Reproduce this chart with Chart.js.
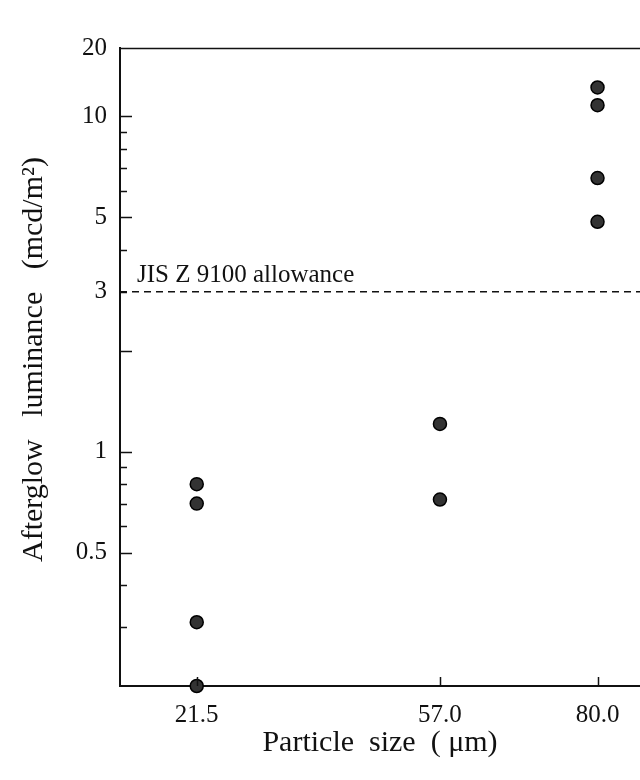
<!DOCTYPE html>
<html>
<head>
<meta charset="utf-8">
<title>Afterglow luminance vs particle size</title>
<script src="https://cdn.jsdelivr.net/npm/chart.js@4/dist/chart.umd.min.js"></script>
<style>
  body { margin: 0; background: #fff; }
  #wrap { width: 640px; height: 780px; }
</style>
</head>
<body>
<div id="wrap"><canvas id="chart" width="640" height="780"></canvas></div>
<script>
// particle sizes (µm) and measured afterglow luminance (mcd/m2)
const particleSizes = [21.5, 57.0, 80.0];
const lum21_5 = [0.80, 0.70, 0.31, 0.20];
const lum57_0 = [1.21, 0.72];
const lum80_0 = [12.2, 10.8, 6.55, 4.85];

// JIS Z 9100 allowance level
const allowance = 3;
const allowanceText = 'JIS Z 9100 allowance';

// axis ranges and labels
const xMin = 10.3, xMax = 86.2;
const yMin = 0.2, yMax = 16;
const yTickValues = [0.5, 1, 3, 5, 10, 16];
const yTickLabels = ['0.5', '1', '3', '5', '10', '20'];
const yMajorMarks = [0.5, 1, 2, 5, 10];
const yMinorMarks = [0.3, 0.4, 0.6, 0.7, 0.8, 0.9, 3, 4, 6, 7, 8, 9];
const xTickLabels = ['21.5', '57.0', '80.0'];

const serif = '"Liberation Serif", "DejaVu Serif", "Times New Roman", serif';

const points = [];
lum21_5.forEach(v => points.push({ x: particleSizes[0], y: v }));
lum57_0.forEach(v => points.push({ x: particleSizes[1], y: v }));
lum80_0.forEach(v => points.push({ x: particleSizes[2], y: v }));

// inward tick marks, top frame line and the allowance caption
const frameTicks = {
    id: 'frameTicks',
    afterDraw(chart) {
        const ctx = chart.ctx;
        const area = chart.chartArea;
        const xs = chart.scales.x, ys = chart.scales.y;
        ctx.save();
        ctx.strokeStyle = '#111';
        ctx.lineWidth = 1.5;
        ctx.beginPath();
        yMajorMarks.forEach(v => {
            const py = Math.round(ys.getPixelForValue(v)) + 0.5;
            ctx.moveTo(area.left, py);
            ctx.lineTo(area.left + 12, py);
        });
        yMinorMarks.forEach(v => {
            const py = Math.round(ys.getPixelForValue(v)) + 0.5;
            ctx.moveTo(area.left, py);
            ctx.lineTo(area.left + 7, py);
        });
        particleSizes.forEach(v => {
            const px = Math.round(xs.getPixelForValue(v)) + 0.5;
            ctx.moveTo(px, area.bottom);
            ctx.lineTo(px, area.bottom - 9);
        });
        ctx.stroke();

        // top frame line
        ctx.beginPath();
        ctx.moveTo(area.left, area.top + 0.5);
        ctx.lineTo(area.right, area.top + 0.5);
        ctx.stroke();

        ctx.fillStyle = '#111';
        ctx.font = '25px ' + serif;
        ctx.textAlign = 'left';
        ctx.textBaseline = 'alphabetic';
        ctx.fillText(allowanceText, area.left + 17, ys.getPixelForValue(allowance) - 10);
        ctx.restore();
    }
};

const ctx = document.getElementById('chart').getContext('2d');
new Chart(ctx, {
    type: 'scatter',
    data: {
        datasets: [{
            label: 'allowance',
            type: 'line',
            data: [{ x: xMin, y: allowance }, { x: xMax, y: allowance }],
            borderColor: '#111',
            borderWidth: 1.5,
            borderDash: [7, 5],
            pointRadius: 0,
            fill: false
        }, {
            label: 'luminance',
            data: points,
            pointRadius: 6.5,
            pointBackgroundColor: '#333',
            pointBorderColor: '#000',
            pointBorderWidth: 1.5,
            clip: false
        }]
    },
    options: {
        responsive: false,
        animation: false,
        devicePixelRatio: 1,
        layout: { autoPadding: false, padding: { top: 48, right: 0, left: 0, bottom: 0 } },
        plugins: {
            legend: { display: false },
            tooltip: { enabled: false }
        },
        scales: {
            x: {
                type: 'linear',
                min: xMin,
                max: xMax,
                grid: { display: false, drawTicks: false },
                border: { display: true, color: '#111', width: 2 },
                afterBuildTicks: scale => {
                    scale.ticks = particleSizes.map(v => ({ value: v }));
                },
                afterFit: scale => {
                    scale.height = 94;
                    scale.paddingLeft = 0;
                    scale.paddingRight = 0;
                },
                ticks: {
                    padding: 14,
                    color: '#111',
                    font: { family: serif, size: 25 },
                    callback: (v, i) => xTickLabels[i]
                },
                title: {
                    display: true,
                    text: 'Particle  size  ( μm)',
                    color: '#111',
                    font: { family: serif, size: 30 },
                    padding: { top: 0, bottom: 19 }
                }
            },
            y: {
                type: 'logarithmic',
                min: yMin,
                max: yMax,
                grid: { display: false, drawTicks: false },
                border: { display: true, color: '#111', width: 2 },
                afterBuildTicks: scale => {
                    scale.ticks = yTickValues.map(v => ({ value: v }));
                },
                afterFit: scale => { scale.width = 120; },
                ticks: {
                    padding: 13,
                    color: '#111',
                    font: { family: serif, size: 25 },
                    callback: (v, i) => yTickLabels[i]
                },
                title: {
                    display: true,
                    text: '  Afterglow   luminance   (mcd/m²)',
                    color: '#111',
                    font: { family: serif, size: 30 },
                    padding: { top: 16, bottom: 0 }
                }
            }
        }
    },
    plugins: [frameTicks]
});
</script>
</body>
</html>
